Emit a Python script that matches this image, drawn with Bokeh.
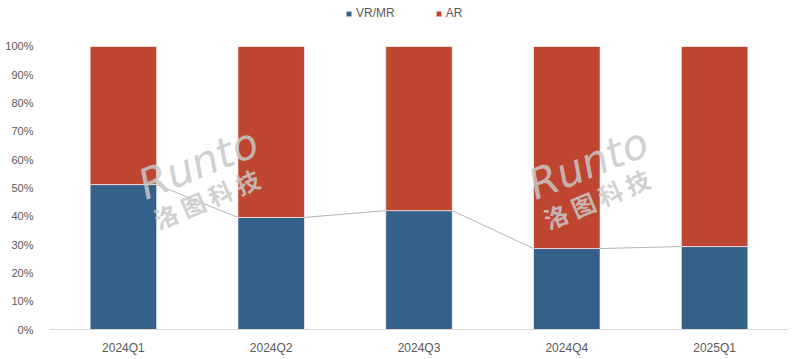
from bokeh.plotting import figure
from bokeh.models import (ColumnDataSource, FactorRange, Range1d, Legend, LegendItem,
                          NumeralTickFormatter, FixedTicker, Label)
from bokeh.transform import dodge
from bokeh.embed import file_html
from bokeh.resources import INLINE

quarters = ["2024Q1", "2024Q2", "2024Q3", "2024Q4", "2025Q1"]
vr_mr = [0.512, 0.396, 0.420, 0.286, 0.293]
ar = [round(1 - v, 3) for v in vr_mr]
series = ["VR/MR", "AR"]
colors = ["#356089", "#BE4631"]
y_ticks = [i / 10 for i in range(11)]

src = ColumnDataSource(dict(q=quarters, vr=vr_mr, ar=ar))

p = figure(x_range=FactorRange(*quarters), y_range=Range1d(0, 1.1625),
           width=792, frame_height=329, output_backend="svg", toolbar_location=None,
           min_border_left=49, min_border_right=4, min_border_bottom=0, min_border_top=0)

r = p.vbar_stack(["vr", "ar"], x="q", width=0.45, source=src, color=colors,
                 line_color="white", line_width=0.6)

seg = ColumnDataSource(dict(x0=quarters[:-1], x1=quarters[1:], y0=vr_mr[:-1], y1=vr_mr[1:]))
p.segment(x0=dodge("x0", 0.225, range=p.x_range), x1=dodge("x1", -0.225, range=p.x_range),
          y0="y0", y1="y1", source=seg, line_color="#b4b4b4", line_width=1)

# watermark
for xs in (100, 490):
    p.add_layout(Label(x=xs, y=120, x_units="screen", y_units="screen", text="Runto",
                       angle=0.38, text_font="DejaVu Sans", text_font_style="italic",
                       text_font_size="42px", text_color="#c8c8c8", text_alpha=0.85))
    p.add_layout(Label(x=xs + 12, y=93, x_units="screen", y_units="screen", text="洛 图 科 技",
                       angle=0.40, text_font="Noto Sans CJK SC", text_font_style="bold",
                       text_font_size="24px", text_color="#c8c8c8", text_alpha=0.85))

legend = Legend(items=[LegendItem(label=series[0], renderers=[r[0]]),
                       LegendItem(label=series[1], renderers=[r[1]])],
                orientation="horizontal", location=(296, 309), border_line_color=None,
                background_fill_alpha=0,
                glyph_width=7, glyph_height=7, label_text_font_size="12px",
                label_text_color="#595959", label_text_font="Liberation Sans",
                spacing=40, padding=0, margin=0, label_standoff=4, label_height=12)
p.add_layout(legend, "center")

p.xgrid.grid_line_color = None
p.ygrid.grid_line_color = None
p.outline_line_color = None

p.yaxis.ticker = FixedTicker(ticks=y_ticks)
p.yaxis.formatter = NumeralTickFormatter(format="0%")
p.yaxis.axis_line_color = None
p.yaxis.major_tick_line_color = None
p.yaxis.minor_tick_line_color = None
p.yaxis.major_label_standoff = 10
p.yaxis.major_label_text_font_size = "11px"

p.xaxis.axis_line_color = "#d9d9d9"
p.xaxis.major_tick_line_color = None
p.xaxis.major_label_standoff = 5
p.xaxis.major_label_text_font_size = "12px"

for ax in (p.xaxis, p.yaxis):
    ax.major_label_text_font = "Liberation Sans"
    ax.major_label_text_color = "#595959"

open("out.html", "w").write(file_html(p, INLINE))
